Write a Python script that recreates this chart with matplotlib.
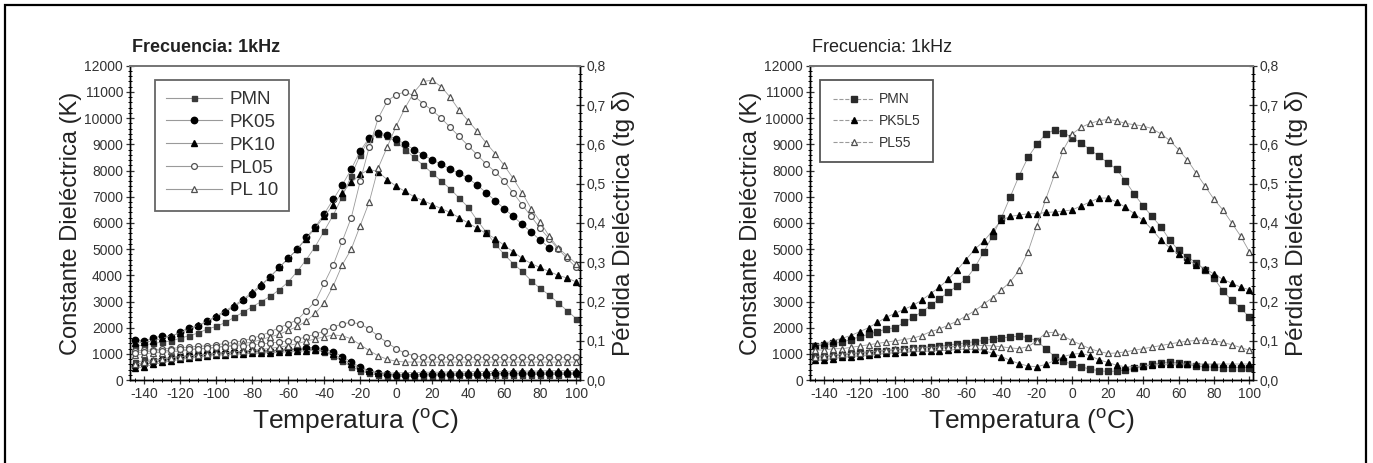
import numpy as np
import matplotlib
matplotlib.use("Agg")
import matplotlib.pyplot as plt
from matplotlib.ticker import MultipleLocator, FuncFormatter
from matplotlib.lines import Line2D

plt.rcParams['font.family'] = ['Liberation Sans', 'DejaVu Sans']
plt.rcParams['mathtext.default'] = 'regular'
plt.rcParams['axes.unicode_minus'] = False

nan = np.nan

# temperature grid (deg C)
temp = [-145, -140, -135, -130, -125, -120, -115, -110, -105, -100,
        -95, -90, -85, -80, -75, -70, -65, -60, -55, -50,
        -45, -40, -35, -30, -25, -20, -15, -10, -5, 0,
        5, 10, 15, 20, 25, 30, 35, 40, 45, 50,
        55, 60, 65, 70, 75, 80, 85, 90, 95, 100]

# ---- left panel: dielectric constant K ----
k_pmn_a = [1300, 1350, 1400, 1450, 1500, 1600, 1700, 1800, 1950, 2050,
           2200, 2400, 2600, 2800, 3000, 3200, 3450, 3750, 4150, 4600,
           5100, 5700, 6300, 7000, 7800, 8600, 9200, 9400, 9300, 9100,
           8800, 8500, 8200, 7900, 7600, 7300, 6950, 6600, 6100, 5650,
           5200, 4800, 4450, 4150, 3800, 3500, 3250, 2950, 2650, 2350]
k_pk05 = [1550, 1500, 1600, 1700, 1650, 1850, 2000, 2050, 2250, 2400,
          2600, 2800, 3050, 3300, 3600, 3950, 4300, 4650, 5000, 5450,
          5850, 6350, 6900, 7450, 8050, 8750, 9250, 9450, 9350, 9200,
          9000, 8800, 8600, 8400, 8250, 8050, 7900, 7700, 7450, 7150,
          6850, 6550, 6250, 5950, 5650, 5350, 5050, nan, nan, nan]
k_pk10 = [1400, 1450, 1500, 1600, 1700, 1800, 1950, 2100, 2250, 2450,
          2650, 2850, 3100, 3350, 3650, 3950, 4300, 4650, 5000, 5400,
          5800, 6250, 6700, 7150, 7550, 7850, 8050, 7950, 7650, 7400,
          7200, 7000, 6850, 6700, 6550, 6400, 6200, 6000, 5800, 5600,
          5400, 5150, 4900, 4650, 4450, 4300, 4150, 4000, 3900, 3750]
k_pl05 = [1100, 1150, 1150, 1200, 1200, 1250, 1250, 1300, 1300, 1350,
          1400, 1450, 1500, 1600, 1700, 1850, 2000, 2150, 2300, 2650,
          3000, 3700, 4400, 5300, 6200, 7600, 8900, 10000, 10650, 10900,
          11000, 10850, 10550, 10300, 10000, 9650, 9300, 8950, 8600, 8250,
          7950, 7600, 7150, 6700, 6250, 5800, 5400, 5000, 4650, 4300]
k_pl10 = [950, 1000, 1050, 1050, 1100, 1100, 1150, 1200, 1200, 1250,
          1300, 1350, 1400, 1450, 1550, 1650, 1750, 1900, 2050, 2250,
          2550, 2950, 3600, 4400, 5000, 5900, 6800, 8100, 8900, 9700,
          10400, 11000, 11400, 11450, 11200, 10800, 10300, 9900, 9500, 9050,
          8650, 8200, 7700, 7150, 6550, 6050, 5500, 5050, 4750, 4450]

# ---- left panel: dielectric loss tg delta ----
tg_pmn_a = [0.045, 0.050, 0.052, 0.055, 0.058, 0.060, 0.062, 0.064, 0.066, 0.068,
            0.070, 0.071, 0.072, 0.073, 0.074, 0.075, 0.076, 0.077, 0.078, 0.078,
            0.077, 0.072, 0.062, 0.048, 0.034, 0.024, 0.017, 0.013, 0.011, 0.010,
            0.010, 0.010, 0.010, 0.011, 0.011, 0.011, 0.012, 0.012, 0.012, 0.012,
            0.013, 0.013, 0.013, 0.013, 0.014, 0.014, 0.014, 0.014, 0.015, 0.015]
tg_pk05 = [0.035, 0.040, 0.045, 0.050, 0.054, 0.058, 0.061, 0.064, 0.066, 0.068,
           0.070, 0.071, 0.072, 0.073, 0.074, 0.075, 0.076, 0.078, 0.080, 0.082,
           0.083, 0.080, 0.072, 0.060, 0.046, 0.033, 0.024, 0.018, 0.015, 0.014,
           0.014, 0.014, 0.015, 0.015, 0.015, 0.015, 0.016, 0.016, 0.016, 0.016,
           0.017, 0.017, 0.017, 0.017, 0.018, 0.018, 0.018, 0.018, 0.018, 0.018]
tg_pk10 = [0.030, 0.034, 0.040, 0.045, 0.049, 0.053, 0.056, 0.059, 0.061, 0.063,
           0.065, 0.066, 0.067, 0.068, 0.069, 0.070, 0.071, 0.072, 0.073, 0.075,
           0.076, 0.074, 0.066, 0.054, 0.041, 0.030, 0.023, 0.019, 0.018, 0.018,
           0.019, 0.019, 0.020, 0.020, 0.020, 0.021, 0.021, 0.021, 0.022, 0.022,
           0.022, 0.022, 0.023, 0.023, 0.023, 0.023, 0.024, 0.024, 0.024, 0.024]
tg_pl05 = [0.070, 0.072, 0.074, 0.075, 0.076, 0.078, 0.079, 0.080, 0.082, 0.084,
           0.085, 0.087, 0.088, 0.090, 0.092, 0.094, 0.097, 0.100, 0.104, 0.110,
           0.117, 0.125, 0.135, 0.143, 0.147, 0.143, 0.130, 0.112, 0.095, 0.080,
           0.068, 0.062, 0.059, 0.058, 0.058, 0.058, 0.058, 0.058, 0.058, 0.058,
           0.058, 0.058, 0.058, 0.058, 0.058, 0.058, 0.058, 0.058, 0.058, 0.058]
tg_pl10 = [0.040, 0.045, 0.050, 0.054, 0.057, 0.060, 0.062, 0.064, 0.066, 0.068,
           0.070, 0.072, 0.074, 0.076, 0.078, 0.081, 0.084, 0.088, 0.093, 0.099,
           0.105, 0.110, 0.115, 0.113, 0.105, 0.090, 0.075, 0.062, 0.053, 0.048,
           0.046, 0.046, 0.046, 0.046, 0.046, 0.046, 0.046, 0.046, 0.046, 0.046,
           0.046, 0.046, 0.046, 0.046, 0.046, 0.046, 0.046, 0.046, 0.046, 0.046]

# ---- right panel: dielectric constant K ----
k_pmn_b = [1300, 1350, 1400, 1450, 1550, 1650, 1750, 1850, 1950, 2000,
           2200, 2400, 2600, 2850, 3100, 3350, 3600, 3850, 4300, 4900,
           5500, 6200, 7000, 7800, 8500, 9000, 9400, 9550, 9450, 9250,
           9050, 8800, 8550, 8300, 8050, 7600, 7100, 6650, 6250, 5850,
           5350, 4950, 4700, 4480, 4200, 3900, 3400, 3050, 2750, 2400]
k_pk5l5 = [1350, 1400, 1500, 1600, 1700, 1850, 2000, 2200, 2400, 2550,
           2700, 2850, 3050, 3300, 3550, 3850, 4200, 4600, 5000, 5300,
           5700, 6100, 6250, 6300, 6350, 6350, 6400, 6420, 6450, 6500,
           6650, 6800, 6950, 6950, 6800, 6600, 6350, 6100, 5750, 5350,
           5050, 4800, 4600, 4400, 4250, 4050, 3850, 3700, 3550, 3450]
k_pl55 = [1150, 1150, 1200, 1200, 1250, 1300, 1350, 1400, 1450, 1500,
          1550, 1600, 1700, 1850, 1950, 2100, 2250, 2450, 2650, 2900,
          3150, 3450, 3750, 4200, 4900, 5900, 6900, 7850, 8800, 9400,
          9650, 9800, 9900, 9950, 9900, 9800, 9750, 9700, 9600, 9400,
          9150, 8800, 8400, 7900, 7400, 6900, 6500, 6000, 5500, 4900]

# ---- right panel: dielectric loss tg delta ----
tg_pmn_b = [0.058, 0.060, 0.062, 0.064, 0.066, 0.068, 0.070, 0.073, 0.075, 0.077,
            0.079, 0.081, 0.083, 0.085, 0.087, 0.089, 0.092, 0.095, 0.098, 0.101,
            0.104, 0.107, 0.110, 0.112, 0.108, 0.100, 0.080, 0.060, 0.048, 0.040,
            0.034, 0.028, 0.024, 0.022, 0.023, 0.026, 0.030, 0.035, 0.040, 0.044,
            0.046, 0.044, 0.040, 0.036, 0.034, 0.033, 0.032, 0.032, 0.032, 0.032]
tg_pk5l5 = [0.050, 0.052, 0.055, 0.058, 0.060, 0.062, 0.064, 0.066, 0.068, 0.070,
            0.071, 0.072, 0.073, 0.074, 0.075, 0.076, 0.078, 0.079, 0.078, 0.076,
            0.068, 0.060, 0.050, 0.042, 0.036, 0.034, 0.040, 0.050, 0.060, 0.066,
            0.068, 0.062, 0.052, 0.045, 0.038, 0.034, 0.034, 0.036, 0.038, 0.040,
            0.041, 0.041, 0.041, 0.041, 0.041, 0.041, 0.041, 0.041, 0.041, 0.041]
tg_pl55 = [0.060, 0.062, 0.064, 0.066, 0.068, 0.070, 0.072, 0.074, 0.076, 0.078,
           0.080, 0.081, 0.082, 0.083, 0.084, 0.085, 0.086, 0.087, 0.088, 0.088,
           0.087, 0.085, 0.082, 0.080, 0.085, 0.100, 0.120, 0.122, 0.112, 0.100,
           0.090, 0.080, 0.073, 0.068, 0.069, 0.072, 0.076, 0.080, 0.084, 0.088,
           0.092, 0.096, 0.099, 0.101, 0.102, 0.100, 0.096, 0.090, 0.083, 0.076]

LINE = '#9a9a9a'
styles = {
    'PMN_a': dict(marker='s', ms=3.6, mfc='#3a3a3a', mec='#3a3a3a'),
    'PMN_b': dict(marker='s', ms=3.8, mfc='#2a2a2a', mec='#2a2a2a'),
    'PK05': dict(marker='o', ms=4.6, mfc='black', mec='black'),
    'PK10': dict(marker='^', ms=4.6, mfc='black', mec='black'),
    'PK5L5': dict(marker='^', ms=4.8, mfc='black', mec='black'),
    'PL05': dict(marker='o', ms=4.2, mfc='white', mec='#505050', mew=0.9),
    'PL10': dict(marker='^', ms=4.4, mfc='white', mec='#505050', mew=0.9),
    'PL55': dict(marker='^', ms=4.6, mfc='white', mec='#505050', mew=0.9),
}


def pct(v, pos):
    return ('%.1f' % v).replace('.', ',')


def setup(ax, ax2, bold_title):
    ax.set_xlim(-148, 102)
    ax.set_ylim(0, 12000)
    ax2.set_ylim(0, 0.8)
    ax.xaxis.set_major_locator(MultipleLocator(20))
    ax.xaxis.set_minor_locator(MultipleLocator(5))
    ax.yaxis.set_major_locator(MultipleLocator(1000))
    ax.yaxis.set_minor_locator(MultipleLocator(200))
    ax2.yaxis.set_major_locator(MultipleLocator(0.1))
    ax2.yaxis.set_minor_locator(MultipleLocator(0.02))
    ax2.yaxis.set_major_formatter(FuncFormatter(pct))
    for a in (ax, ax2):
        a.tick_params(which='major', direction='inout', length=6, width=0.9,
                      labelsize=10, colors='#333333', pad=2)
        a.tick_params(which='minor', direction='inout', length=3.5, width=0.7)
        for s in a.spines.values():
            s.set_linewidth(1.0)
        a.spines['top'].set_color('#777777')
        a.spines['top'].set_linewidth(1.4)
    ax.tick_params(axis='x', labelsize=10)
    ax.set_xlabel('Temperatura ($^{o}$C)', fontsize=19, color='#222222', labelpad=4)
    ax.set_ylabel('Constante Dieléctrica (K)', fontsize=17, color='#222222', labelpad=2)
    ax2.set_ylabel('Pérdida Dieléctrica (tg δ)', fontsize=17.5, color='#222222', labelpad=4)
    ax.text(0.005, 1.03, 'Frecuencia: 1kHz', transform=ax.transAxes, fontsize=13,
            fontweight='bold' if bold_title else 'normal', color='#222222',
            ha='left', va='bottom')


fig = plt.figure(figsize=(13.73, 4.63), dpi=100)

# left panel
axL = fig.add_axes([0.0947, 0.179, 0.3275, 0.679])
axL2 = axL.twinx()
left_k = [('PMN', k_pmn_a, 'PMN_a'), ('PK05', k_pk05, 'PK05'), ('PK10', k_pk10, 'PK10'),
          ('PL05', k_pl05, 'PL05'), ('PL 10', k_pl10, 'PL10')]
left_tg = [(tg_pmn_a, 'PMN_a'), (tg_pk05, 'PK05'), (tg_pk10, 'PK10'),
           (tg_pl05, 'PL05'), (tg_pl10, 'PL10')]
for vals, key in left_tg:
    axL2.plot(temp, vals, color=LINE, lw=0.6, **styles[key])
handles = []
for name, vals, key in left_k:
    axL.plot(temp, vals, color=LINE, lw=0.6, **styles[key])
    handles.append(Line2D([], [], color=LINE, lw=0.8, label=name, **styles[key]))
setup(axL, axL2, True)
leg = axL2.legend(handles=handles, loc='upper left', bbox_to_anchor=(0.055, 0.955),
                  fontsize=13.5, frameon=True, fancybox=False, edgecolor='#666666',
                  framealpha=1, handlelength=3, borderpad=0.6, labelspacing=0.3,
                  handletextpad=0.4, borderaxespad=0)
leg.get_frame().set_linewidth(1.3)
for t in leg.get_texts():
    t.set_color('#333333')

# right panel
axR = fig.add_axes([0.590, 0.179, 0.3226, 0.679])
axR2 = axR.twinx()
right_k = [('PMN', k_pmn_b, 'PMN_b'), ('PK5L5', k_pk5l5, 'PK5L5'), ('PL55', k_pl55, 'PL55')]
right_tg = [(tg_pmn_b, 'PMN_b'), (tg_pk5l5, 'PK5L5'), (tg_pl55, 'PL55')]
for vals, key in right_tg:
    axR2.plot(temp, vals, color=LINE, lw=0.6, **styles[key])
handles = []
for name, vals, key in right_k:
    axR.plot(temp, vals, color=LINE, lw=0.6, **styles[key])
    handles.append(Line2D([], [], color=LINE, lw=0.8, ls='--', label=name, **styles[key]))
setup(axR, axR2, False)
leg = axR2.legend(handles=handles, loc='upper left', bbox_to_anchor=(0.023, 0.955),
                  fontsize=10, frameon=True, fancybox=False, edgecolor='#555555',
                  framealpha=1, handlelength=3, borderpad=0.9, labelspacing=0.55,
                  handletextpad=0.3, borderaxespad=0)
leg.get_frame().set_linewidth(1.3)
for t in leg.get_texts():
    t.set_color('#333333')

# outer frame
fig.add_artist(plt.Rectangle((0.0035, -0.05), 0.9915, 1.039, transform=fig.transFigure,
                             fill=False, lw=1.6, ec='black'))

fig.savefig('out.png', dpi=100)
